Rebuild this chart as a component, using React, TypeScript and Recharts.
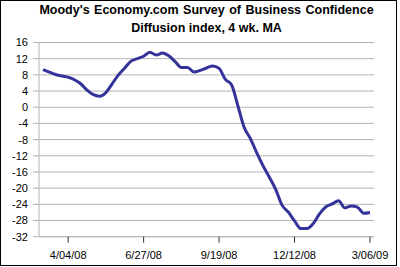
import React from 'react';
import { LineChart, Line, XAxis, YAxis, CartesianGrid } from 'recharts';

const dates = [
  '3/07/08', '3/14/08', '3/21/08', '3/28/08', '4/04/08', '4/11/08', '4/18/08', '4/25/08',
  '5/02/08', '5/09/08', '5/16/08', '5/23/08', '5/30/08', '6/06/08', '6/13/08', '6/20/08',
  '6/27/08', '7/04/08', '7/11/08', '7/18/08', '7/25/08', '8/01/08', '8/08/08', '8/15/08',
  '8/22/08', '8/29/08', '9/05/08', '9/12/08', '9/19/08', '9/26/08', '10/03/08', '10/10/08',
  '10/17/08', '10/24/08', '10/31/08', '11/07/08', '11/14/08', '11/21/08', '11/28/08', '12/05/08',
  '12/12/08', '12/19/08', '12/26/08', '1/02/09', '1/09/09', '1/16/09', '1/23/09', '1/30/09',
  '2/06/09', '2/13/09', '2/20/09', '2/27/09', '3/06/09',
];

const values = [
  9.3, 8.7, 8.1, 7.7, 7.4, 6.8, 5.8, 4.2,
  3.1, 2.7, 3.6, 5.8, 8.0, 9.7, 11.4, 12.0,
  12.6, 13.6, 12.9, 13.4, 12.7, 11.3, 9.8, 9.8,
  8.7, 9.1, 9.7, 10.2, 9.6, 6.9, 5.5, 0.3,
  -5.0, -7.8, -11.3, -14.5, -17.3, -20.3, -24.2, -25.9,
  -28.1, -30.0, -30.0, -28.7, -26.3, -24.6, -23.9, -23.1,
  -24.9, -24.4, -24.7, -26.2, -26.0,
];

const xTicks = ['4/04/08', '6/27/08', '9/19/08', '12/12/08', '3/06/09'];
const yTicks = [-32, -28, -24, -20, -16, -12, -8, -4, 0, 4, 8, 12, 16];
const title = "Moody's Economy.com Survey of Business Confidence";
const subtitle = 'Diffusion index, 4 wk. MA';

const data = dates.map((d, i) => ({ date: d, value: values[i] }));

const FONT = '"Liberation Sans", Arial, sans-serif';
const GRID = '#b4b4b4';

export default function App() {
  return (
    <div style={{ position: 'absolute', left: 0, top: 0, width: 397, height: 266, background: '#fff', fontFamily: FONT }}>
      <LineChart
        width={397}
        height={266}
        data={data}
        margin={{ top: 42.5, right: 23, bottom: 0, left: 0 }}
      >
        <CartesianGrid horizontal vertical={false} stroke={GRID} strokeWidth={1} />
        <XAxis
          dataKey="date"
          ticks={xTicks}
          interval={0}
          padding={{ left: 4, right: 4 }}
          height={29.3}
          tickSize={6}
          tickMargin={8}
          axisLine={{ stroke: GRID }}
          tickLine={{ stroke: '#333' }}
          tick={{ fill: '#000', fontSize: 11, fontFamily: FONT }}
        />
        <YAxis
          domain={[-32, 16]}
          ticks={yTicks}
          interval={0}
          width={39}
          tickSize={6}
          tickMargin={5}
          axisLine={{ stroke: GRID }}
          tickLine={{ stroke: GRID }}
          tick={{ fill: '#000', fontSize: 11, fontFamily: FONT }}
        />
        <YAxis
          yAxisId="r"
          orientation="right"
          domain={[-32, 16]}
          width={0}
          tick={false}
          tickLine={false}
          axisLine={{ stroke: GRID }}
        />
        <Line
          type="monotone"
          dataKey="value"
          stroke="#333399"
          strokeWidth={3}
          dot={false}
          isAnimationActive={false}
        />
      </LineChart>
      <div style={{ position: 'absolute', left: 39, width: 335, top: 1, textAlign: 'center', fontSize: 12.5, fontWeight: 'bold', lineHeight: '18px', color: '#000', whiteSpace: 'nowrap', wordSpacing: 1 }}>
        {title}
      </div>
      <div style={{ position: 'absolute', left: 39, width: 335, top: 19.3, textAlign: 'center', fontSize: 12.5, fontWeight: 'bold', lineHeight: '18px', color: '#000', whiteSpace: 'nowrap' }}>
        {subtitle}
      </div>
      <div style={{ position: 'absolute', left: 0, top: 0, width: 397, height: 266, border: '1px solid #000', boxSizing: 'border-box', pointerEvents: 'none' }} />
    </div>
  );
}
